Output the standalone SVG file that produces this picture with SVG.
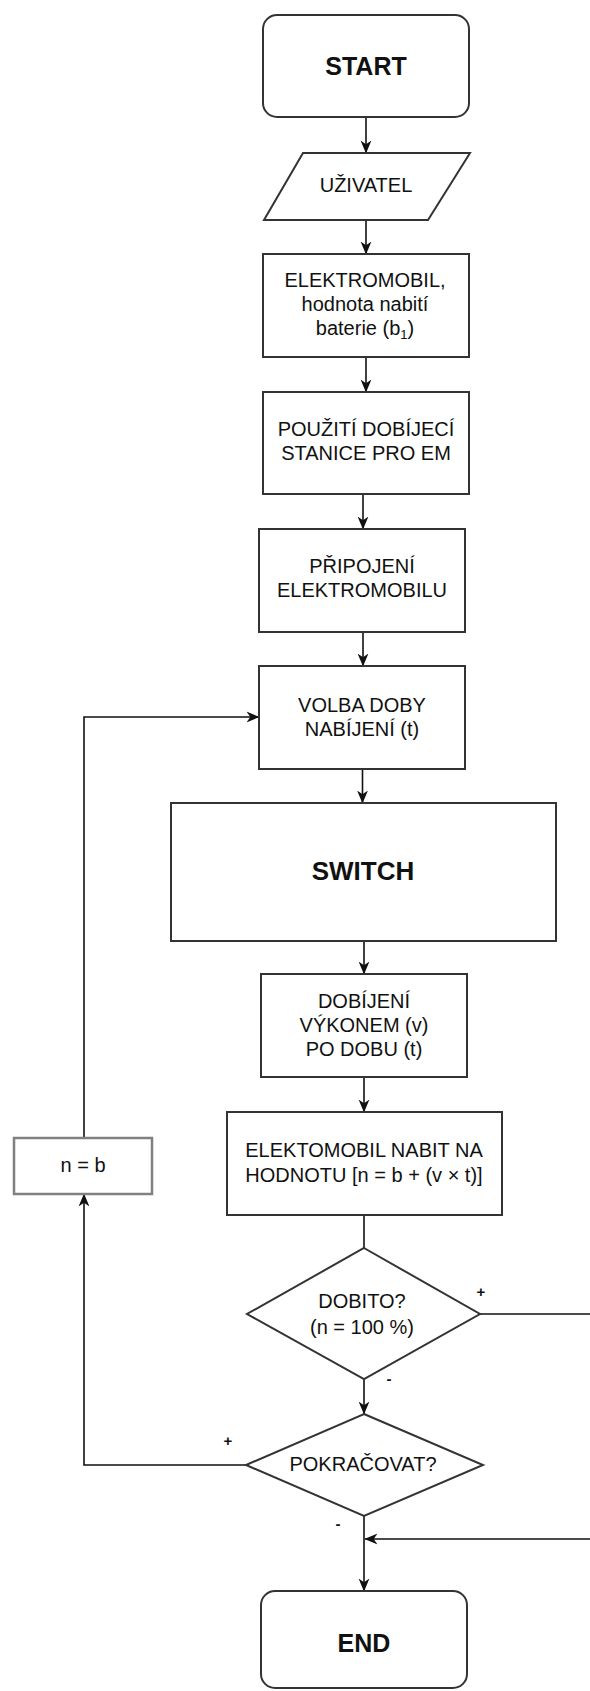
<svg xmlns="http://www.w3.org/2000/svg" width="590" height="1691" viewBox="0 0 590 1691">
<style>
.box{fill:#fff;stroke:#333;stroke-width:2}
.gbox{fill:#fff;stroke:#808080;stroke-width:2.5}
.t{font-family:"Liberation Sans",Arial,sans-serif;font-size:20px;fill:#111;text-anchor:middle}
.big{font-size:25px}
.b{font-weight:bold}
.lbl{font-family:"Liberation Sans",Arial,sans-serif;font-size:15px;font-weight:bold;fill:#111;text-anchor:middle}
.c{fill:none;stroke:#111;stroke-width:1.6}
</style>
<defs>
<marker id="ah" markerUnits="userSpaceOnUse" markerWidth="13" markerHeight="13" viewBox="0 0 12 12" refX="11.5" refY="6" orient="auto">
<path d="M0,1 L12,6 L0,11 L3.5,6 z" fill="#111"/>
</marker>
</defs>
<rect width="590" height="1691" fill="#fff"/>
<g id="connectors">
<path class="c" d="M366,117 V153" marker-end="url(#ah)"/>
<path class="c" d="M366,220 V254" marker-end="url(#ah)"/>
<path class="c" d="M366,357 V392" marker-end="url(#ah)"/>
<path class="c" d="M363,494 V529" marker-end="url(#ah)"/>
<path class="c" d="M363,632 V666" marker-end="url(#ah)"/>
<path class="c" d="M362.5,769 V803" marker-end="url(#ah)"/>
<path class="c" d="M364,941 V974" marker-end="url(#ah)"/>
<path class="c" d="M364,1077 V1112" marker-end="url(#ah)"/>
<path class="c" d="M364,1215 V1248"/>
<path class="c" d="M364,1379 V1414" marker-end="url(#ah)"/>
<path class="c" d="M246,1465 H84 V1194" marker-end="url(#ah)"/>
<path class="c" d="M84,1138 V717 H259" marker-end="url(#ah)"/>
<path class="c" d="M480,1314 H598 V1539 H365" marker-end="url(#ah)"/>
<path class="c" d="M364,1516 V1591" marker-end="url(#ah)"/>
<text class="lbl" x="481" y="1297">+</text>
<text class="lbl" x="389" y="1384">-</text>
<text class="lbl" x="228" y="1446">+</text>
<text class="lbl" x="338" y="1529">-</text>
</g>
<g id="start">
<rect class="box" x="263" y="15" width="206" height="102" rx="14"/>
<text class="t big b" x="366" y="75">START</text>
</g>
<g id="uzivatel">
<polygon class="box" points="303,153 470,153 428,220 264,220"/>
<text class="t" x="366" y="192">UŽIVATEL</text>
</g>
<g id="elektromobil">
<rect class="box" x="263" y="254" width="206" height="103"/>
<text class="t" x="365" y="287">ELEKTROMOBIL,</text>
<text class="t" x="365" y="311">hodnota nabití</text>
<text class="t" x="365" y="335">baterie (b<tspan font-size="13" dy="4">1</tspan><tspan dy="-4">)</tspan></text>
</g>
<g id="pouziti">
<rect class="box" x="263" y="392" width="206" height="102"/>
<text class="t" x="366" y="436">POUŽITÍ DOBÍJECÍ</text>
<text class="t" x="366" y="460">STANICE PRO EM</text>
</g>
<g id="pripojeni">
<rect class="box" x="259" y="529" width="206" height="103"/>
<text class="t" x="362" y="573">PŘIPOJENÍ</text>
<text class="t" x="362" y="597">ELEKTROMOBILU</text>
</g>
<g id="volba">
<rect class="box" x="259" y="666" width="206" height="103"/>
<text class="t" x="362" y="712">VOLBA DOBY</text>
<text class="t" x="362" y="736">NABÍJENÍ (t)</text>
</g>
<g id="switch">
<rect class="box" x="171" y="803" width="385" height="138"/>
<text class="t b" style="font-size:26px" x="363" y="880">SWITCH</text>
</g>
<g id="dobijeni">
<rect class="box" x="261" y="974" width="206" height="103"/>
<text class="t" x="364" y="1008">DOBÍJENÍ</text>
<text class="t" x="364" y="1032">VÝKONEM (v)</text>
<text class="t" x="364" y="1056">PO DOBU (t)</text>
</g>
<g id="nabit">
<rect class="box" x="227" y="1112" width="275" height="103"/>
<text class="t" x="364" y="1157">ELEKTOMOBIL NABIT NA</text>
<text class="t" x="364" y="1182">HODNOTU [n = b + (v × t)]</text>
</g>
<g id="nb">
<rect class="gbox" x="14" y="1138" width="138" height="56"/>
<text class="t" x="83" y="1172">n = b</text>
</g>
<g id="dobito">
<polygon class="box" points="364,1248 480,1314 364,1379 247,1314"/>
<text class="t" x="362" y="1308">DOBITO?</text>
<text class="t" x="362" y="1334">(n = 100 %)</text>
</g>
<g id="pokracovat">
<polygon class="box" points="364,1414 483,1465 364,1516 246,1465"/>
<text class="t" x="363" y="1471">POKRAČOVAT?</text>
</g>
<g id="end">
<rect class="box" x="261" y="1591" width="206" height="97" rx="14"/>
<text class="t big b" x="364" y="1652">END</text>
</g>
</svg>
